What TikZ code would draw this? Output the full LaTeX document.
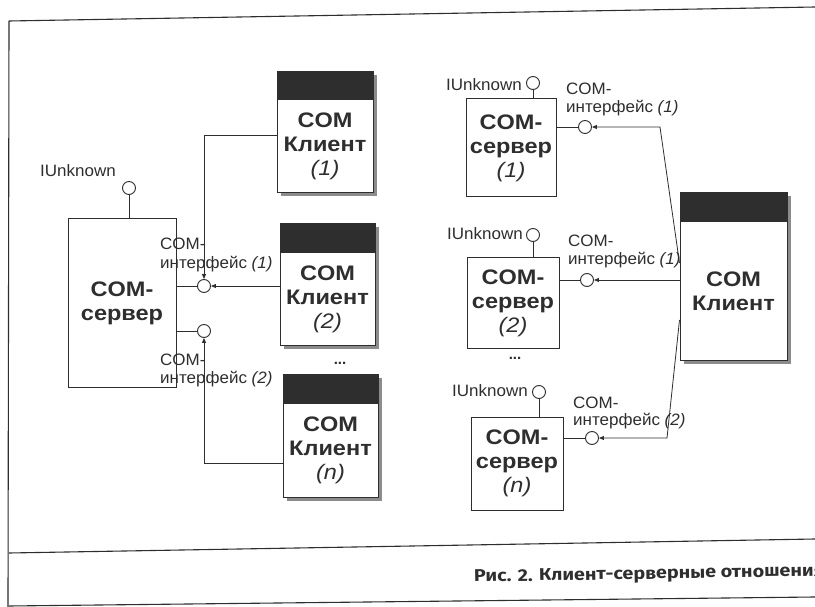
\documentclass[tikz,border=0pt]{standalone}
\usepackage{fontspec}
\setmainfont{Liberation Sans}
\newfontfamily\boxfont[FakeStretch=1.12]{Liberation Sans}
\newfontfamily\lblfont[FakeStretch=1.03]{Liberation Sans}
\newfontfamily\capfont[FakeStretch=1.16]{Fira Sans}
\usetikzlibrary{arrows.meta,shadows}
\definecolor{ink}{HTML}{2E2E2E}
\begin{document}
\begin{tikzpicture}[x=1pt,y=-1pt,
  ln/.style={line width=0.8pt, draw=ink},
  arr/.style={ln, -{Triangle[length=5pt,width=4pt]}},
  frame/.style={line width=1.1pt, draw=ink},
  box/.style={draw=ink, line width=1pt, fill=white, align=center, inner sep=0pt,
    text=ink, font=\boxfont\fontsize{21}{24}\selectfont\bfseries},
  shad/.style={drop shadow={shadow xshift=3.5pt, shadow yshift=-3.5pt, fill=black!45, opacity=1}},
  chead/.style={draw=ink, line width=1pt, fill=ink, inner sep=0pt, shad},
  cbody/.style={box, shad},
  lolli/.style={circle, draw=ink, line width=0.9pt, fill=white, minimum size=13pt, inner sep=0pt},
  lbl/.style={text=ink, inner sep=0pt, font=\lblfont\fontsize{16.5}{18}\selectfont},
  dots/.style={text=ink, inner sep=0pt, font=\fontsize{15}{18}\selectfont\bfseries}
]
\useasboundingbox (0,0) rectangle (815,607);
\clip (0,0) rectangle (815,607);
\fill[white] (0,0) rectangle (815,607);

% frame
\coordinate (ftl) at (9,21);
\coordinate (ftr) at (815,7);
\coordinate (fml) at (9,553);
\coordinate (fmr) at (815,539);
\coordinate (fbl) at (9,606);
\coordinate (fbr) at (815,597);
\coordinate (fbot) at (8,607);
\draw[frame] (ftl) -- (ftr);
\draw[frame] (ftl) -- (fbot);
\draw[frame] (fml) -- (fmr);
\draw[frame] (fbl) -- (fbr);
\node[text=ink, inner sep=0pt, anchor=base west, rotate=1,
  font=\capfont\bfseries\fontsize{17}{20}\selectfont] (cap) at (474,582)
  {Рис. 2. Клиент-серверные отношения};

% ---------- left part ----------
\node[box, minimum width=108pt, minimum height=168pt] (ls) at (122,303) {COM-\\сервер};
\node[lolli] (lu) at (129,188) {};
\draw[ln] (lu.south) -- (lu.south |- ls.north);
\node[lbl, anchor=base east] (lutxt) at (116,177) {IUnknown};

\node[lolli] (li1) at (204,286) {};
\node[lolli] (li2) at (204,331) {};
\draw[ln] (ls.east |- li1) -- (li1.west);
\draw[ln] (ls.east |- li2) -- (li2.west);
\node[lbl, anchor=base west] (l1a) at (160,250) {COM-};
\node[lbl, anchor=base west] (l1b) at (160,269) {интерфейс \textit{(1)}};
\node[lbl, anchor=base west] (l2a) at (160,365) {COM-};
\node[lbl, anchor=base west] (l2b) at (160,383) {интерфейс \textit{(2)}};

% clients left
\node[chead, minimum width=96pt, minimum height=28pt] (c1h) at (325,86) {};
\node[cbody, minimum width=96pt, minimum height=93pt] (c1) at (325,146.5) {COM\\Клиент\\\textit{\mdseries(1)}};
\node[chead, minimum width=95pt, minimum height=29pt] (c2h) at (327.5,238.5) {};
\node[cbody, minimum width=95pt, minimum height=92pt] (c2) at (327.5,299) {COM\\Клиент\\\textit{\mdseries(2)}};
\node[dots] (ldots) at (340,363) {...};
\node[chead, minimum width=95pt, minimum height=29pt] (cnh) at (330.5,388.5) {};
\node[cbody, minimum width=95pt, minimum height=94pt] (cn) at (330.5,450) {COM\\Клиент\\\textit{\mdseries(n)}};

\draw[arr] ([yshift=11.5pt]c1.west) -| (li1.north);
\draw[arr] (c2.west |- li1) -- (li1.east);
\draw[arr] ([yshift=-13pt]cn.west) -| (li2.south);

% ---------- right part ----------
\node[box, minimum width=90pt, minimum height=98pt] (r1) at (511,148) {COM-\\сервер\\\textit{\mdseries(1)}};
\node[box, minimum width=92pt, minimum height=90pt] (r2) at (513,303) {COM-\\сервер\\\textit{\mdseries(2)}};
\node[dots] (rdots) at (515,358) {...};
\node[box, minimum width=92pt, minimum height=93pt] (rn) at (517,463.5) {COM-\\сервер\\\textit{\mdseries(n)}};

\node[lolli] (ru1) at (533,83) {};
\node[lolli] (ru2) at (533,235) {};
\node[lolli] (run) at (539,392) {};
\draw[ln] (ru1.south) -- (ru1.south |- r1.north);
\draw[ln] (ru2.south) -- (ru2.south |- r2.north);
\draw[ln] (run.south) -- (run.south |- rn.north);
\node[lbl, anchor=base east] (ru1t) at (522,91) {IUnknown};
\node[lbl, anchor=base east] (ru2t) at (523,240) {IUnknown};
\node[lbl, anchor=base east] (runt) at (528,396) {IUnknown};

\node[lolli] (ri1) at (585,127) {};
\node[lolli] (ri2) at (587,280) {};
\node[lolli] (rin) at (592,438) {};
\draw[ln] (r1.east |- ri1) -- (ri1.west);
\draw[ln] (r2.east |- ri2) -- (ri2.west);
\draw[ln] (rn.east |- rin) -- (rin.west);
\node[lbl, anchor=base west] (r1a) at (566,95) {COM-};
\node[lbl, anchor=base west] (r1b) at (566,113) {интерфейс \textit{(1)}};
\node[lbl, anchor=base west] (r2a) at (568,247) {COM-};
\node[lbl, anchor=base west] (r2b) at (568,265) {интерфейс \textit{(1)}};
\node[lbl, anchor=base west] (rna) at (573,408) {COM-};
\node[lbl, anchor=base west] (rnb) at (573,425) {интерфейс \textit{(2)}};

% big client
\node[chead, minimum width=107pt, minimum height=29pt] (ch) at (733.5,207.5) {};
\node[cbody, minimum width=107pt, minimum height=138pt] (cc) at (733.5,291) {COM\\Клиент};

\coordinate (b1) at (660,127);
\coordinate (bn) at (667,438);
\draw[arr] (cc.west |- {(0,263)}) -- (b1) -- (ri1.east);
\draw[arr] (cc.west |- ri2) -- (ri2.east);
\draw[arr] (cc.west |- {(0,320)}) -- (bn) -- (rin.east);
\end{tikzpicture}
\end{document}
